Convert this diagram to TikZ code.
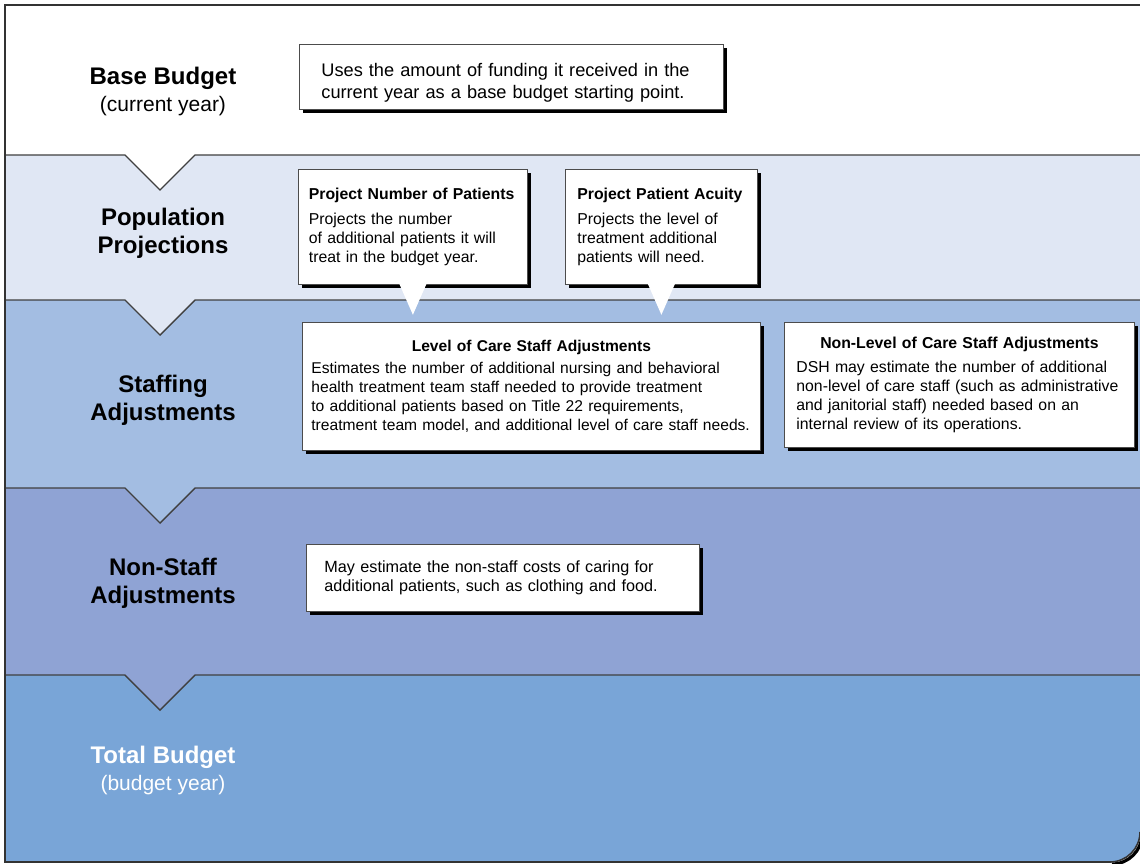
\documentclass[tikz,border=0pt]{standalone}
\usepackage{fontspec}
\setmainfont{Liberation Sans}
\usetikzlibrary{positioning,shadows}

\definecolor{bandA}{HTML}{E0E7F4}
\definecolor{bandB}{HTML}{A3BDE2}
\definecolor{bandC}{HTML}{8FA3D4}
\definecolor{bandD}{HTML}{79A5D7}

\tikzset{
  box/.style={draw=black!70, fill=white, line width=0.4pt, anchor=north west, inner sep=0pt, align=left,
    drop shadow={shadow xshift=1.6pt, shadow yshift=-1.6pt, fill=black, opacity=1}},
  ttl/.style={align=center, font=\fontsize{12}{14}\selectfont\bfseries},
  edge/.style={draw=black!75, line width=0.7pt}
}

\begin{document}
\begin{tikzpicture}[x=0.5pt, y=-0.5pt]
\useasboundingbox (0,0) rectangle (1140,863);

\begin{scope}
  \clip (5,5) -- (1140,5) -- (1140,832) arc[start angle=0, end angle=90, radius=30] -- (5,862) -- cycle;
  \fill[white] (5,5) rectangle (1140,155);
  \fill[bandA] (5,155) rectangle (1140,300);
  \fill[bandB] (5,300) rectangle (1140,488);
  \fill[bandC] (5,488) rectangle (1140,675);
  \fill[bandD] (5,675) rectangle (1140,862);
  \foreach \y/\c in {155/white, 300/bandA, 488/bandB, 675/bandC} {
    \fill[\c] (125,\y) -- (160,\y+35) -- (195,\y) -- cycle;
    \draw[edge] (5,\y) -- (125,\y) -- (160,\y+35) -- (195,\y) -- (1140,\y);
  }
\end{scope}

% frame with rounded bottom corner
\draw[black, line width=1.6pt] (1112,864) arc[start angle=90, end angle=0, radius=30];
\draw[black!80, line width=0.8pt] (1140,5) -- (5,5) -- (5,862) -- (1110,862) arc[start angle=90, end angle=0, radius=30];

% stage titles
\node[ttl] (base) at (163,91) {Base Budget\\[-0.5pt]{\mdseries\fontsize{10.5}{13.5}\selectfont (current year)}};
\node[ttl] (pop) at (163,233) {Population\\Projections};
\node[ttl] (staff) at (163,400) {Staffing\\Adjustments};
\node[ttl] (nonstaff) at (163,583) {Non-Staff\\Adjustments};
\node[ttl, white] (total) at (163,770) {Total Budget\\[-0.5pt]{\mdseries\fontsize{10.5}{13.5}\selectfont (budget year)}};

% description boxes
\node[box, minimum width=212pt, minimum height=32.5pt, text width=190pt, font=\fontsize{9.1}{11}\selectfont] (basebox) at (299,44)
  {\rule{0pt}{12pt}Uses the amount of funding it received in the\\current year as a base budget starting point.};

\node[box, minimum width=114.5pt, minimum height=57.5pt, text width=104pt, font=\fontsize{7.9}{9.5}\selectfont] (numbox) at (298,169)
  {\textbf{Project Number of Patients}\\[3pt]Projects the number\\of additional patients it will\\treat in the budget year.};

\node[box, minimum width=96pt, minimum height=57.5pt, text width=84pt, font=\fontsize{7.9}{9.5}\selectfont] (acubox) at (565,169)
  {\textbf{Project Patient Acuity}\\[3pt]Projects the level of\\treatment additional\\patients will need.};

\node[box, minimum width=229pt, minimum height=64pt, text width=220pt, font=\fontsize{7.8}{9.5}\selectfont] (locbox) at (302,322)
  {\makebox[\linewidth]{\bfseries Level of Care Staff Adjustments}\\[1.5pt]Estimates the number of additional nursing and behavioral\\health treatment team staff needed to provide treatment\\to additional patients based on Title 22 requirements,\\treatment team model, and additional level of care staff needs.};

\node[box, minimum width=175pt, minimum height=62.5pt, text width=163pt, font=\fontsize{7.9}{9.5}\selectfont] (nlocbox) at (784,322)
  {\makebox[\linewidth]{\bfseries Non-Level of Care Staff Adjustments}\\[2.5pt]DSH may estimate the number of additional\\non-level of care staff (such as administrative\\and janitorial staff) needed based on an\\internal review of its operations.};

\node[box, minimum width=196.5pt, minimum height=33.5pt, text width=178.5pt, font=\fontsize{8.1}{9.5}\selectfont] (nsbox) at (306,544)
  {May estimate the non-staff costs of caring for\\additional patients, such as clothing and food.};

% pointers
\fill[white] ([xshift=-6.75pt, yshift=0.4pt]numbox.south) -- ([yshift=-15pt]numbox.south) -- ([xshift=6.75pt, yshift=0.4pt]numbox.south) -- cycle;
\fill[white] ([xshift=-6.75pt, yshift=0.4pt]acubox.south) -- ([yshift=-15pt]acubox.south) -- ([xshift=6.75pt, yshift=0.4pt]acubox.south) -- cycle;
\end{tikzpicture}
\end{document}
